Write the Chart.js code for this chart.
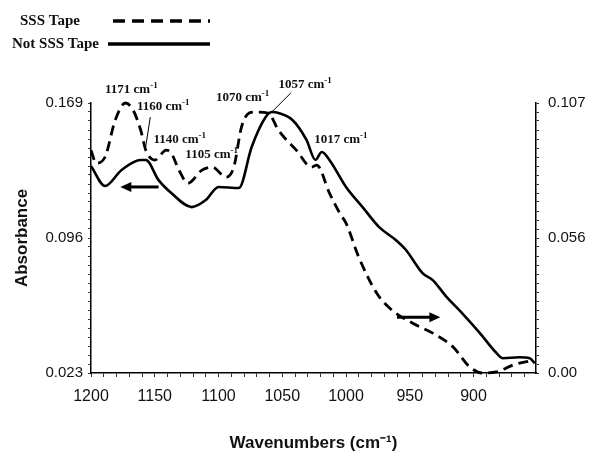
<!DOCTYPE html>
<html>
<head>
<meta charset="utf-8">
<script src="https://cdn.jsdelivr.net/npm/chart.js@4/dist/chart.umd.min.js"></script>
<style>
  html, body { margin: 0; padding: 0; background: #fff; }
  #wrap { width: 590px; height: 457px; position: relative; }
</style>
</head>
<body>
<div id="wrap"><canvas id="chart" width="590" height="457"></canvas></div>
<script>
// --- data ---
const wavenumberTicks = [1200, 1150, 1100, 1050, 1000, 950, 900];
const leftTickValues = [0.023, 0.096, 0.169];
const leftTickLabels = ['0.023', '0.096', '0.169'];
const rightTickValues = [0, 0.0535, 0.107];
const rightTickLabels = ['0.00', '0.056', '0.107'];

// Not SSS Tape (solid, left axis)
const notSssWave = [1200, 1189, 1176, 1161, 1157, 1147, 1137, 1121, 1110, 1100, 1084, 1074, 1063, 1058,
  1053, 1042, 1031, 1024, 1019, 1013, 1000, 987, 974, 961, 953, 940, 932, 921, 909, 895, 882, 877, 864, 856, 852];
const notSssAbs = [0.1349, 0.1241, 0.1328, 0.1382, 0.1382, 0.1273, 0.1203, 0.1127, 0.1165, 0.1236, 0.1230, 0.1452, 0.1614, 0.1641,
  0.1636, 0.1598, 0.1490, 0.1382, 0.1425, 0.1382, 0.1236, 0.1127, 0.1019, 0.0949, 0.0895, 0.0770, 0.0732, 0.0640, 0.0554, 0.0446, 0.0338, 0.0310, 0.0315, 0.0310, 0.0283];

// SSS Tape (dashed, right axis)
const sssWave = [1200, 1196, 1189, 1181, 1173, 1167, 1161, 1157, 1150, 1141, 1137, 1131, 1124, 1113, 1105, 1094, 1088,
  1082, 1076, 1071, 1061, 1053, 1039, 1027, 1023, 1013, 1005, 1000, 990, 976, 964, 948, 932, 916, 903, 893, 882, 869, 853];
const sssAbs = [0.0883, 0.0832, 0.0856, 0.1002, 0.1070, 0.1042, 0.0962, 0.0883, 0.0844, 0.0883, 0.0871, 0.0804, 0.0752, 0.0804, 0.0816, 0.0776, 0.0816,
  0.0974, 0.1030, 0.1034, 0.1030, 0.0962, 0.0883, 0.0816, 0.0824, 0.0713, 0.0634, 0.0594, 0.0459, 0.0317, 0.0249, 0.0198, 0.0158, 0.0103, 0.0024, 0.0000, 0.0004, 0.0032, 0.0051];

// peak labels, anchored in (wavenumber, left-axis absorbance)
const peakNames = ['1171', '1160', '1140', '1105', '1070', '1057', '1017'];
const peakWave = [1189, 1164, 1151, 1126, 1102, 1053, 1025];
const peakAbs = [0.176, 0.1668, 0.149, 0.1409, 0.1717, 0.1787, 0.149];

const toPoints = (xs, ys) => xs.map((x, i) => ({ x: x, y: ys[i] }));

function minorTicks(min, max, n) {
  const out = [];
  for (let i = 0; i <= n; i++) out.push({ value: min + (max - min) * i / n });
  return out;
}
function labelFor(value, values, labels) {
  for (let i = 0; i < values.length; i++) {
    if (Math.abs(values[i] - value) < 1e-6) return labels[i];
  }
  return '';
}

// legend + annotations, drawn on top
const decorations = {
  id: 'decorations',
  afterDraw(chart) {
    const ctx = chart.ctx;
    const xs = chart.scales.x, ys = chart.scales.y;
    ctx.save();

    // legend
    ctx.fillStyle = '#111';
    ctx.textBaseline = 'middle';
    ctx.font = 'bold 15px "Liberation Serif", serif';
    ctx.fillText('SSS Tape', 20, 21);
    ctx.fillText('Not SSS Tape', 12, 44);
    ctx.strokeStyle = '#000';
    ctx.lineWidth = 3.5;
    ctx.setLineDash([12, 7]);
    ctx.beginPath(); ctx.moveTo(113, 21); ctx.lineTo(210, 21); ctx.stroke();
    ctx.setLineDash([]);
    ctx.beginPath(); ctx.moveTo(108, 44); ctx.lineTo(210, 44); ctx.stroke();

    // peak labels
    peakNames.forEach((name, i) => {
      const px = xs.getPixelForValue(peakWave[i]);
      const py = ys.getPixelForValue(peakAbs[i]);
      ctx.font = 'bold 13px "Liberation Serif", serif';
      const base = name + ' cm';
      ctx.fillText(base, px, py);
      const w = ctx.measureText(base).width;
      ctx.font = 'bold 9px "Liberation Serif", serif';
      ctx.fillText('-1', px + w, py - 4);
    });

    // leader lines
    ctx.lineWidth = 1;
    ctx.beginPath();
    ctx.moveTo(xs.getPixelForValue(1153.5), ys.getPixelForValue(0.1614));
    ctx.lineTo(xs.getPixelForValue(1157.5), ys.getPixelForValue(0.1436));
    ctx.moveTo(xs.getPixelForValue(1043.3), ys.getPixelForValue(0.1744));
    ctx.lineTo(xs.getPixelForValue(1059), ys.getPixelForValue(0.1636));
    ctx.stroke();

    // axis arrows
    function arrow(w0, w1, v) {
      const x0 = xs.getPixelForValue(w0), x1 = xs.getPixelForValue(w1), y = ys.getPixelForValue(v);
      const dir = Math.sign(x1 - x0);
      ctx.lineWidth = 3;
      ctx.beginPath(); ctx.moveTo(x0, y); ctx.lineTo(x1 - dir * 8, y); ctx.stroke();
      ctx.beginPath();
      ctx.moveTo(x1, y); ctx.lineTo(x1 - dir * 11, y - 5); ctx.lineTo(x1 - dir * 11, y + 5);
      ctx.closePath(); ctx.fill();
    }
    ctx.fillStyle = '#000';
    arrow(1147, 1177, 0.1236);
    arrow(960, 926, 0.0532);

    ctx.restore();
  }
};

const tickFont = { family: '"Liberation Sans", Arial, sans-serif', size: 15 };
const titleFont = { family: '"Liberation Sans", Arial, sans-serif', size: 17, weight: 'bold' };

new Chart(document.getElementById('chart'), {
  type: 'line',
  data: {
    datasets: [
      {
        label: 'Not SSS Tape',
        data: toPoints(notSssWave, notSssAbs),
        yAxisID: 'y',
        borderColor: '#000',
        borderWidth: 2.6,
        pointRadius: 0,
        cubicInterpolationMode: 'monotone',
        clip: false
      },
      {
        label: 'SSS Tape',
        data: toPoints(sssWave, sssAbs),
        yAxisID: 'y2',
        borderColor: '#000',
        borderWidth: 2.8,
        borderDash: [10, 6],
        pointRadius: 0,
        cubicInterpolationMode: 'monotone',
        clip: false
      }
    ]
  },
  options: {
    responsive: false,
    animation: false,
    layout: { padding: { top: 103, left: 0, right: 0, bottom: 0 } },
    plugins: { legend: { display: false }, tooltip: { enabled: false } },
    scales: {
      x: {
        type: 'linear',
        reverse: true,
        min: 851,
        max: 1200,
        afterBuildTicks: s => { s.ticks = minorTicks(860, 1200, 34); },
        afterFit: s => { s.height = 84; },
        border: { display: true, color: '#000', width: 1.5 },
        grid: { drawOnChartArea: false, tickLength: 4, color: '#000', tickColor: '#333' },
        ticks: {
          autoSkip: false, maxRotation: 0, padding: 10, color: '#111',
          font: { family: tickFont.family, size: 16 },
          callback: v => labelFor(v, wavenumberTicks, wavenumberTicks.map(String))
        },
        title: {
          display: true, text: 'Wavenumbers (cm\u207B\u00B9)', color: '#111',
          font: titleFont, padding: { top: 0, bottom: 3 }
        }
      },
      y: {
        position: 'left',
        min: 0.023,
        max: 0.169,
        afterBuildTicks: s => { s.ticks = minorTicks(0.023, 0.169, 30); },
        afterFit: s => { s.width = 91; },
        border: { display: true, color: '#000', width: 1.5 },
        grid: { drawOnChartArea: false, tickLength: 3, color: '#000', tickColor: '#333' },
        ticks: {
          autoSkip: false, padding: 5, color: '#111', font: tickFont,
          callback: v => labelFor(v, leftTickValues, leftTickLabels)
        },
        title: {
          display: true, text: 'Absorbance', color: '#111',
          font: titleFont, padding: { top: 12, bottom: 0 }
        }
      },
      y2: {
        position: 'right',
        min: 0,
        max: 0.107,
        afterBuildTicks: s => { s.ticks = minorTicks(0, 0.107, 30); },
        afterFit: s => { s.width = 54; },
        border: { display: true, color: '#000', width: 1.5 },
        grid: { drawOnChartArea: false, tickLength: 3, color: '#000', tickColor: '#333' },
        ticks: {
          autoSkip: false, padding: 9, color: '#111', font: tickFont,
          callback: v => labelFor(v, rightTickValues, rightTickLabels)
        }
      }
    }
  },
  plugins: [decorations]
});
</script>
</body>
</html>
